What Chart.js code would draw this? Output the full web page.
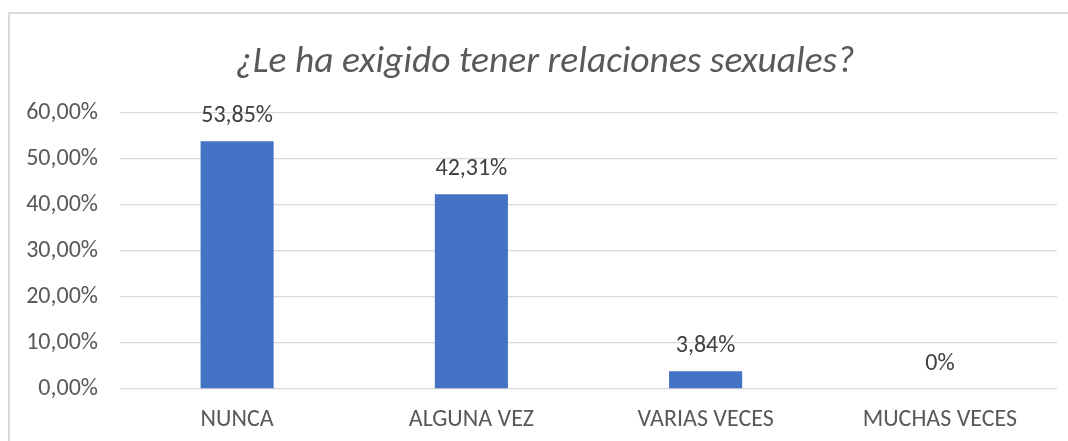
<!DOCTYPE html>
<html lang="es">
<head>
<meta charset="UTF-8">
<title>Relaciones sexuales</title>
<script src="https://cdn.jsdelivr.net/npm/chart.js@4"></script>
<style>
  body { margin: 0; background: #fff; }
  .frame {
    position: absolute; left: 8px; top: 12px; width: 1060px; height: 429px;
    border-top: 2px solid #d9d9d9; border-left: 2px solid #d9d9d9;
  }
</style>
</head>
<body>
<div class="frame"><canvas id="chart"></canvas></div>
<script>
var categories = ['NUNCA', 'ALGUNA VEZ', 'VARIAS VECES', 'MUCHAS VECES'];
var values = [53.85, 42.31, 3.84, 0];
var valueLabels = ['53,85%', '42,31%', '3,84%', '0%'];
var chartTitle = '¿Le ha exigido tener relaciones sexuales?';

var font = 'Carlito, Lato, sans-serif';

// labels above bars + title (drawn here so it can sit a bit right of centre like the original)
var barLabels = {
  id: 'barLabels',
  afterDatasetsDraw: function (chart) {
    var ctx = chart.ctx;
    var meta = chart.getDatasetMeta(0);
    ctx.save();
    ctx.font = '24px ' + font;
    ctx.fillStyle = '#404040';
    ctx.textAlign = 'center';
    ctx.textBaseline = 'middle';
    meta.data.forEach(function (bar, i) {
      ctx.fillText(valueLabels[i], bar.x, bar.y - 25);
    });
    ctx.font = 'italic 37.5px ' + font;
    ctx.fillStyle = '#595959';
    ctx.fillText(chartTitle, 535, 49);
    ctx.restore();
  }
};

new Chart(document.getElementById('chart'), {
  type: 'bar',
  data: {
    labels: categories,
    datasets: [{
      data: values,
      backgroundColor: '#4472c4',
      barPercentage: 0.312,
      categoryPercentage: 1
    }]
  },
  options: {
    responsive: true,
    maintainAspectRatio: false,
    animation: false,
    layout: { padding: { left: 0, right: 13, top: 99, bottom: 0 } },
    plugins: {
      legend: { display: false },
      tooltip: { enabled: false },
      title: { display: false }
    },
    scales: {
      x: {
        grid: { display: false, drawTicks: false },
        border: { display: false },
        ticks: { color: '#595959', font: { family: font, size: 24 }, padding: 17 },
        afterFit: function (axis) { axis.height = 54; }
      },
      y: {
        min: 0,
        max: 60,
        ticks: {
          stepSize: 10,
          color: '#595959',
          font: { family: font, size: 24 },
          padding: 22,
          callback: function (v) { return v.toFixed(2).replace('.', ',') + '%'; }
        },
        grid: { color: '#d9d9d9', lineWidth: 1.3, drawTicks: false },
        border: { display: false },
        afterFit: function (axis) { axis.width = 110; }
      }
    }
  },
  plugins: [barLabels]
});
</script>
</body>
</html>
